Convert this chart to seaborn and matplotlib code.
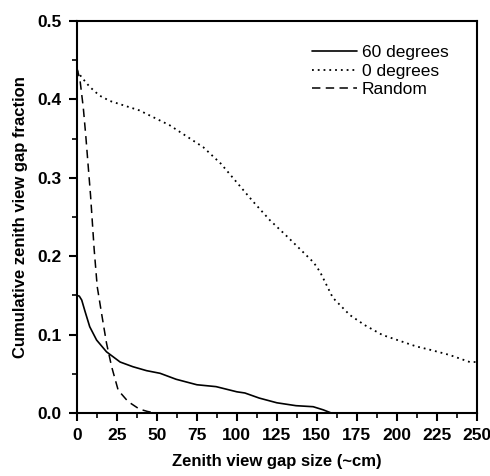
import matplotlib
matplotlib.use("Agg")
import matplotlib.pyplot as plt
import seaborn as sns
import pandas as pd
from matplotlib.ticker import MultipleLocator

# Data
x_60 = [0, 1.5, 3, 5, 8, 12.3, 18.5, 27, 35, 43.5, 52, 62, 75, 87, 100, 105, 114, 125, 137, 147.7, 154, 159, 165]
y_60 = [0.150, 0.149, 0.144, 0.130, 0.110, 0.093, 0.078, 0.065, 0.059, 0.054, 0.0506, 0.043, 0.036, 0.0336, 0.027, 0.0255, 0.019, 0.013, 0.0093, 0.008, 0.004, 0.0, 0.0]

x_0 = [0, 3, 8, 14, 20.6, 39, 58, 62.5, 79, 90, 100, 110, 120.6, 132, 139, 144.5, 148, 152, 160, 170.6, 180, 191, 212, 222, 233, 245.6, 250]
y_0 = [0.437, 0.428, 0.416, 0.405, 0.398, 0.386, 0.367, 0.361, 0.339, 0.318, 0.294, 0.270, 0.246, 0.224, 0.210, 0.199, 0.192, 0.180, 0.147, 0.125, 0.112, 0.0995, 0.085, 0.080, 0.074, 0.065, 0.065]

x_rand = [0, 1.9, 4, 5.6, 7, 8.5, 10.8, 12.7, 15.4, 18.5, 21.7, 25.8, 32, 39, 44, 48.7]
y_rand = [0.440, 0.425, 0.389, 0.352, 0.316, 0.278, 0.208, 0.161, 0.127, 0.089, 0.059, 0.029, 0.0145, 0.005, 0.002, 0.0]

series_names = ["60 degrees", "0 degrees", "Random"]

sns.set_style("ticks")
plt.rcParams["font.family"] = ["Liberation Sans", "DejaVu Sans"]
plt.rcParams["text.color"] = "black"
plt.rcParams["axes.labelcolor"] = "black"
plt.rcParams["xtick.color"] = "black"
plt.rcParams["ytick.color"] = "black"

fig = plt.figure(figsize=(4.9, 4.76), dpi=100)
ax = fig.add_axes([0.157, 0.1324, 0.816, 0.8235])

df60 = pd.DataFrame({"x": x_60, "y": y_60})
df0 = pd.DataFrame({"x": x_0, "y": y_0})
dfr = pd.DataFrame({"x": x_rand, "y": y_rand})

sns.lineplot(data=df60, x="x", y="y", ax=ax, color="black", lw=1.2,
             linestyle="-", label=series_names[0], sort=False)
sns.lineplot(data=df0, x="x", y="y", ax=ax, color="black", lw=1.3,
             linestyle=(0, (1, 2.2)), label=series_names[1], sort=False)
sns.lineplot(data=dfr, x="x", y="y", ax=ax, color="black", lw=1.1,
             linestyle=(0, (5.5, 3.5)), label=series_names[2], sort=False)

ax.set_xlim(0, 250)
ax.set_ylim(0, 0.5)
ax.xaxis.set_major_locator(MultipleLocator(25))
ax.xaxis.set_minor_locator(MultipleLocator(12.5))
ax.yaxis.set_major_locator(MultipleLocator(0.1))
ax.yaxis.set_minor_locator(MultipleLocator(0.05))
ax.yaxis.set_major_formatter(matplotlib.ticker.FormatStrFormatter("%.1f"))

for s in ax.spines.values():
    s.set_visible(True)
    s.set_linewidth(1.5)
    s.set_color("black")

ax.tick_params(which="major", direction="out", length=6, width=1.5,
               labelsize=12.5, pad=5, colors="black")
ax.tick_params(which="minor", direction="out", length=3.5, width=1.2, colors="black")
for lab in ax.get_xticklabels() + ax.get_yticklabels():
    lab.set_fontweight("bold")
    lab.set_color("black")

ax.set_xlabel("Zenith view gap size (~cm)", fontsize=12, fontweight="bold",
              labelpad=8, color="black")
ax.set_ylabel("Cumulative zenith view gap fraction", fontsize=12, fontweight="bold",
              labelpad=7, color="black")

leg = ax.legend(loc="upper right", bbox_to_anchor=(0.96, 0.97), frameon=False,
                fontsize=12.5, handlelength=2.6, handletextpad=0.3,
                labelspacing=0.2, borderaxespad=0.3)
for t in leg.get_texts():
    t.set_color("black")

fig.savefig("out.png", dpi=100)
